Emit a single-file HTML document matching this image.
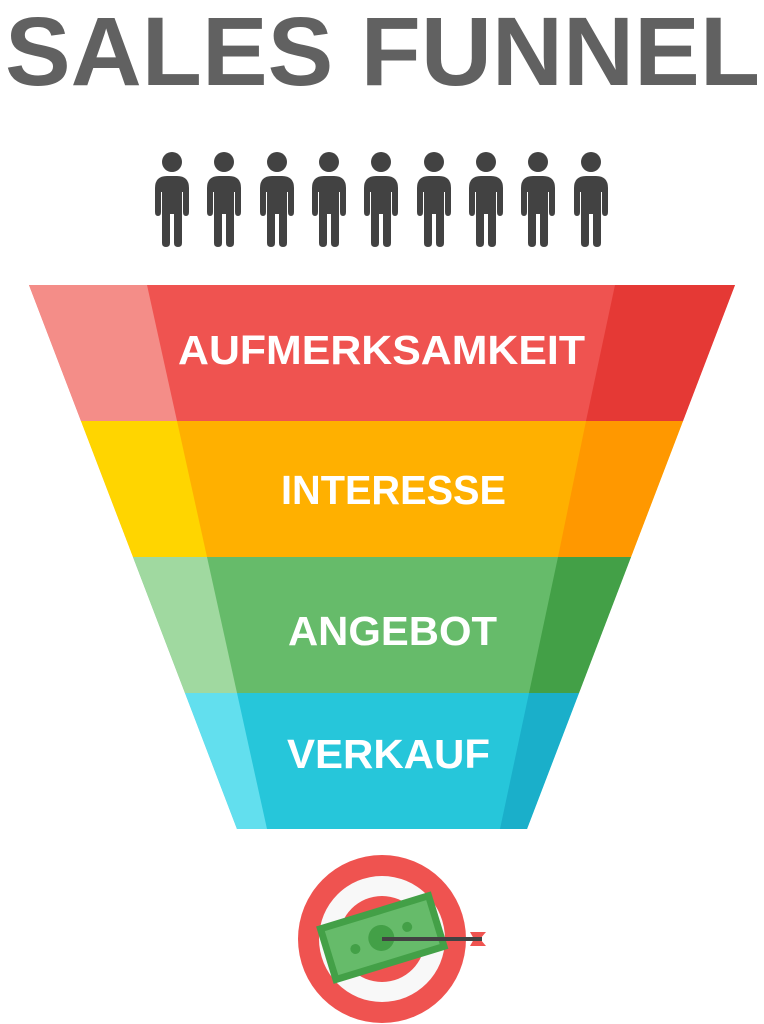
<!DOCTYPE html>
<html><head><meta charset="utf-8"><style>html,body{margin:0;padding:0;background:#fff}svg{display:block}</style></head>
<body>
<svg width="764" height="1024" viewBox="0 0 764 1024" xmlns="http://www.w3.org/2000/svg" font-family="Liberation Sans, sans-serif" font-weight="bold">
<text x="5" y="85" font-size="97" fill="#616161" textLength="755" lengthAdjust="spacingAndGlyphs">SALES FUNNEL</text>
<g fill="#424242" id="p">
<defs><g id="man"><circle cx="0" cy="162" r="10"/><path d="M-17 188 Q-17 176 -5 176 L5 176 Q17 176 17 188 L17 212 Q17 216 14 216 Q11 216 11 212 L11 192 L10 192 L10 243 Q10 247 6 247 Q2 247 2 243 L2 214 L-2 214 L-2 243 Q-2 247 -6 247 Q-10 247 -10 243 L-10 192 L-11 192 L-11 212 Q-11 216 -14 216 Q-17 216 -17 212 Z"/></g></defs>
<use href="#man" x="172"/><use href="#man" x="224"/><use href="#man" x="277"/><use href="#man" x="329"/><use href="#man" x="381"/><use href="#man" x="434"/><use href="#man" x="486"/><use href="#man" x="538"/><use href="#man" x="591"/>
</g>
<polygon points="29,285 735,285 683,421 81,421" fill="#EF5350"/>
<polygon points="29,285 147,285 177,421 81,421" fill="#F48D88"/>
<polygon points="615,285 735,285 683,421 586,421" fill="#E53935"/>
<polygon points="81,421 683,421 631,557 133,557" fill="#FFB000"/>
<polygon points="81,421 177,421 207,557 133,557" fill="#FFD500"/>
<polygon points="586,421 683,421 631,557 558,557" fill="#FF9800"/>
<polygon points="133,557 631,557 579,693 185,693" fill="#66BB6A"/>
<polygon points="133,557 207,557 237,693 185,693" fill="#A0D9A0"/>
<polygon points="558,557 631,557 579,693 529,693" fill="#43A047"/>
<polygon points="185,693 579,693 527,829 237,829" fill="#26C6DA"/>
<polygon points="185,693 237,693 267,829 237,829" fill="#62DFEE"/>
<polygon points="529,693 579,693 527,829 500,829" fill="#1AAFCA"/>
<g fill="#fff" font-size="41">
<text x="178" y="364" textLength="407" lengthAdjust="spacingAndGlyphs">AUFMERKSAMKEIT</text>
<text x="281" y="504" textLength="225" lengthAdjust="spacingAndGlyphs">INTERESSE</text>
<text x="288" y="645" textLength="209" lengthAdjust="spacingAndGlyphs">ANGEBOT</text>
<text x="287" y="768" textLength="203" lengthAdjust="spacingAndGlyphs">VERKAUF</text>
</g>
<circle cx="382" cy="939" r="84" fill="#EF5350"/>
<circle cx="382" cy="939" r="63" fill="#F8F8F8"/>
<circle cx="382" cy="939" r="43" fill="#EF5350"/>
<g transform="rotate(-17 381 937)">
<rect x="322" y="908" width="120" height="60" fill="#43A047"/>
<rect x="329" y="915" width="106" height="46" fill="#66BB6A"/>
<circle cx="381" cy="938" r="13" fill="#43A047"/>
<circle cx="353" cy="941" r="5" fill="#43A047"/>
<circle cx="409" cy="935" r="5" fill="#43A047"/>
</g>
<polygon points="470,932 486,932 480,939 486,946 470,946 474,939" fill="#EF5350"/>
<rect x="382" y="937" width="100" height="4" fill="#424242"/>
</svg>
</body></html>
